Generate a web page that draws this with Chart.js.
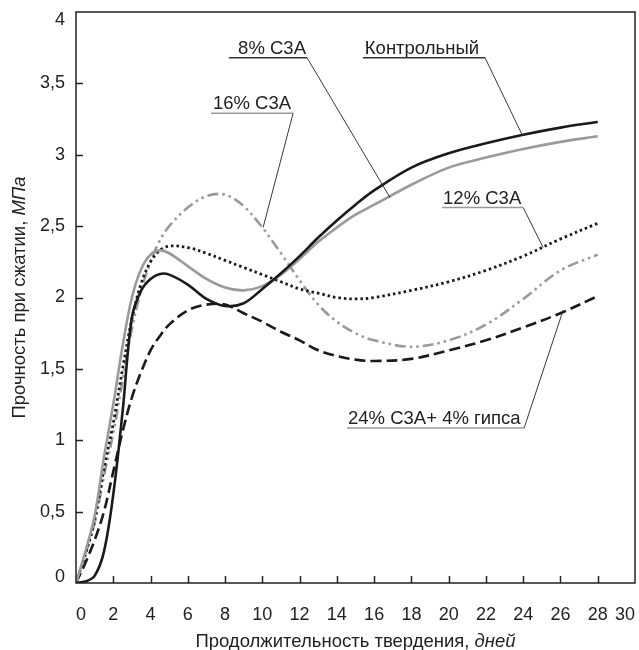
<!DOCTYPE html>
<html>
<head>
<meta charset="utf-8">
<script src="https://cdn.jsdelivr.net/npm/chart.js@4"></script>
<style>
  body { margin: 0; background: #fff; }
  #wrap { width: 639px; height: 650px; }
</style>
</head>
<body>
<div id="wrap"><canvas id="chart" width="639" height="650"></canvas></div>
<script>
// days of hardening
const days = [0, 0.5, 1, 1.5, 2, 2.5, 3, 3.5, 4, 4.5, 5, 6, 7, 8, 9, 10, 11, 12, 13, 14, 15, 16, 18, 20, 22, 24, 26, 28];

// compressive strength, MPa
const control = [0, 0.01, 0.05, 0.22, 0.62, 1.2, 1.86, 2.05, 2.13, 2.165, 2.16, 2.09, 1.99, 1.94, 1.96, 2.06, 2.17, 2.29, 2.42, 2.54, 2.65, 2.75, 2.91, 3.01, 3.08, 3.14, 3.19, 3.23];
const c3a8 = [0, 0.22, 0.47, 0.88, 1.25, 1.66, 2.0, 2.2, 2.3, 2.33, 2.31, 2.22, 2.13, 2.07, 2.05, 2.08, 2.16, 2.27, 2.39, 2.49, 2.58, 2.65, 2.79, 2.91, 2.98, 3.04, 3.09, 3.13];
const c3a12 = [0, 0.2, 0.44, 0.8, 1.12, 1.5, 1.85, 2.1, 2.25, 2.33, 2.36, 2.35, 2.31, 2.26, 2.21, 2.16, 2.11, 2.06, 2.03, 2.0, 1.99, 2.0, 2.05, 2.11, 2.19, 2.29, 2.41, 2.52];
const c3a16 = [0, 0.2, 0.42, 0.75, 1.05, 1.42, 1.78, 2.05, 2.25, 2.4, 2.5, 2.63, 2.71, 2.72, 2.64, 2.49, 2.31, 2.12, 1.95, 1.83, 1.75, 1.7, 1.655, 1.7, 1.81, 1.99, 2.19, 2.3];
const c3a24 = [0, 0.14, 0.3, 0.5, 0.78, 1.06, 1.3, 1.48, 1.63, 1.73, 1.81, 1.91, 1.95, 1.95, 1.89, 1.83, 1.76, 1.7, 1.63, 1.59, 1.565, 1.555, 1.57, 1.63, 1.7, 1.79, 1.89, 2.01];

const xTicks = [2, 4, 6, 8, 10, 12, 14, 16, 18, 20, 22, 24, 26, 28];
const yTicks = [0.5, 1, 1.5, 2, 2.5, 3, 3.5];
const yLabels = [0, 0.5, 1, 1.5, 2, 2.5, 3, 3.5, 4];

// callout labels: text, underline from x0 to x1 at level y, pointer to (tx, ty)
const callouts = [
    { text: '8% С3А', x0: 8.2, x1: 12.4, tx0: 8.7, y: 3.68, tx: 16.85, ty: 2.70, line: '#333' },
    { text: 'Контрольный', x0: 15.4, x1: 21.95, tx0: 15.5, y: 3.68, tx: 23.94, ty: 3.14, line: '#333' },
    { text: '16% С3А', x0: 7.25, x1: 11.65, tx0: 7.35, y: 3.29, tx: 10.04, ty: 2.49, line: '#999' },
    { text: '12% С3А', x0: 19.65, x1: 24.0, tx0: 19.7, y: 2.63, tx: 25.07, ty: 2.35, line: '#999' },
    { text: '24% С3А+ 4% гипса', x0: 14.55, x1: 24.05, tx0: 14.6, y: 1.086, tx: 26.14, ty: 1.91, line: '#999' }
];

const FONT = '"Liberation Sans", Arial, sans-serif';

function pts(vals) {
    return days.map((d, i) => ({ x: d, y: vals[i] }));
}

const decor = {
    id: 'decor',
    afterDatasetsDraw(chart) {
        const { ctx, chartArea: a, scales: { x, y } } = chart;
        ctx.save();

        // frame
        ctx.strokeStyle = '#222';
        ctx.lineWidth = 1.5;
        ctx.strokeRect(a.left, a.top, a.right - a.left, a.bottom - a.top);

        // inward ticks
        ctx.beginPath();
        xTicks.forEach(t => {
            const px = Math.round(x.getPixelForValue(t)) + 0.5;
            ctx.moveTo(px, a.bottom);
            ctx.lineTo(px, a.bottom - 7);
        });
        yTicks.forEach(t => {
            const py = Math.round(y.getPixelForValue(t)) + 0.5;
            ctx.moveTo(a.left, py);
            ctx.lineTo(a.left + 7, py);
        });
        ctx.stroke();

        // y tick labels, end ones kept inside the frame
        ctx.fillStyle = '#222';
        ctx.font = '18px ' + FONT;
        ctx.textAlign = 'right';
        ctx.textBaseline = 'middle';
        yLabels.forEach(v => {
            let py = y.getPixelForValue(v);
            py = Math.min(Math.max(py, a.top + 8), a.bottom - 6);
            ctx.fillText(String(v).replace('.', ','), a.left - 11, py);
        });

        // callouts
        ctx.font = '18.5px ' + FONT;
        ctx.textAlign = 'left';
        ctx.textBaseline = 'alphabetic';
        callouts.forEach(c => {
            const ux0 = x.getPixelForValue(c.x0);
            const ux1 = x.getPixelForValue(c.x1);
            const uy = y.getPixelForValue(c.y);
            ctx.fillText(c.text, x.getPixelForValue(c.tx0), uy - 4);
            ctx.strokeStyle = c.line;
            ctx.lineWidth = 1.5;
            ctx.beginPath();
            ctx.moveTo(ux0, uy);
            ctx.lineTo(ux1, uy);
            ctx.stroke();
            ctx.strokeStyle = '#222';
            ctx.lineWidth = 0.9;
            ctx.beginPath();
            ctx.moveTo(ux1, uy);
            ctx.lineTo(x.getPixelForValue(c.tx), y.getPixelForValue(c.ty));
            ctx.stroke();
        });

        // axis titles with italic units
        ctx.textBaseline = 'middle';
        const xa = 'Продолжительность твердения, ';
        const xb = 'дней';
        ctx.font = '18.5px ' + FONT;
        const wa = ctx.measureText(xa).width;
        ctx.font = 'italic 18.5px ' + FONT;
        const wb = ctx.measureText(xb).width;
        let sx = (a.left + a.right) / 2 - (wa + wb) / 2;
        ctx.font = '18.5px ' + FONT;
        ctx.fillText(xa, sx, 642);
        ctx.font = 'italic 18.5px ' + FONT;
        ctx.fillText(xb, sx + wa, 642);

        const ya = 'Прочность при сжатии, ';
        const yb = 'МПа';
        ctx.font = '18.5px ' + FONT;
        const wya = ctx.measureText(ya).width;
        ctx.font = 'italic 18.5px ' + FONT;
        const wyb = ctx.measureText(yb).width;
        ctx.translate(20, (a.top + a.bottom) / 2);
        ctx.rotate(-Math.PI / 2);
        const sy = -(wya + wyb) / 2;
        ctx.font = '18.5px ' + FONT;
        ctx.fillText(ya, sy, 0);
        ctx.font = 'italic 18.5px ' + FONT;
        ctx.fillText(yb, sy + wya, 0);

        ctx.restore();
    }
};

const common = { pointRadius: 0, fill: false, tension: 0.35 };

new Chart(document.getElementById('chart'), {
    type: 'line',
    data: {
        datasets: [
            { ...common, label: 'Контрольный', data: pts(control), borderColor: '#1a1a1a', borderWidth: 2.6 },
            { ...common, label: '8% С3А', data: pts(c3a8), borderColor: '#9a9a9a', borderWidth: 2.6 },
            { ...common, label: '12% С3А', data: pts(c3a12), borderColor: '#1a1a1a', borderWidth: 2.8, borderDash: [2.5, 3] },
            { ...common, label: '16% С3А', data: pts(c3a16), borderColor: '#9a9a9a', borderWidth: 2.6, borderDash: [11, 4, 2.5, 4, 2.5, 4] },
            { ...common, label: '24% С3А+ 4% гипса', data: pts(c3a24), borderColor: '#1a1a1a', borderWidth: 2.6, borderDash: [11, 5] }
        ]
    },
    options: {
        responsive: false,
        animation: false,
        layout: { padding: { top: 12, right: 4, left: 0, bottom: 0 } },
        plugins: {
            legend: { display: false },
            tooltip: { enabled: false }
        },
        scales: {
            x: {
                type: 'linear',
                min: 0,
                max: 30,
                grid: { display: false, drawTicks: false },
                border: { display: false },
                ticks: {
                    stepSize: 2,
                    padding: 21,
                    align: 'inner',
                    maxRotation: 0,
                    color: '#222',
                    font: { family: FONT, size: 18 }
                },
                afterFit(scale) {
                    scale.height = 67;
                    scale.paddingLeft = 0;
                    scale.paddingRight = 0;
                }
            },
            y: {
                min: 0,
                max: 4,
                grid: { display: false, drawTicks: false },
                border: { display: false },
                ticks: {
                    stepSize: 0.5,
                    display: false
                },
                afterFit(scale) {
                    scale.width = 76;
                    scale.paddingTop = 0;
                    scale.paddingBottom = 0;
                }
            }
        }
    },
    plugins: [decor]
});
</script>
</body>
</html>
